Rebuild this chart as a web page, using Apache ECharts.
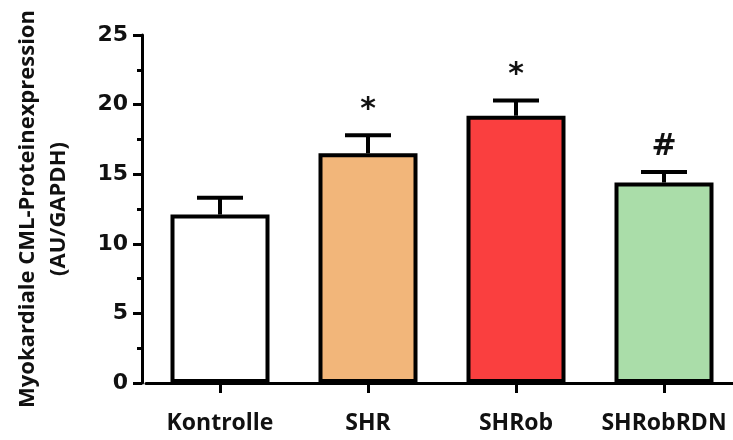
<!DOCTYPE html>
<html>
<head>
<meta charset="utf-8">
<script src="https://cdn.jsdelivr.net/npm/echarts@6/dist/echarts.min.js"></script>
<style>
	html, body { margin: 0; padding: 0; background: #fff; overflow: hidden; }
	/* a little wider than the window so the x axis runs off the right edge */
	#chart { width: 740px; height: 440px; }
</style>
</head>
<body>
<div id="chart"></div>
<script>
// Data
const groups = ['Kontrolle', 'SHR', 'SHRob', 'SHRobRDN'];
const means = [12.1, 16.5, 19.2, 14.4];
const errors = [1.2, 1.3, 1.1, 0.75];
const marks = ['', '*', '*', '#'];
const barColors = ['#FFFFFF', '#F2B67A', '#FA3F3F', '#AADDA9'];

const chart = echarts.init(document.getElementById('chart'));

const option = {
	animation: false,
	grid: { left: 146, right: 2, top: 35, bottom: 57 },
	xAxis: {
		type: 'category',
		data: groups,
		axisLine: { lineStyle: { color: '#000', width: 3 } },
		axisTick: { show: true, alignWithLabel: true, interval: 0, length: 10, lineStyle: { color: '#000', width: 3 } },
		axisLabel: {
			interval: 0, hideOverlap: false,
			color: '#111', fontFamily: 'Open Sans', fontWeight: 'bold', fontSize: 23, margin: 29
		}
	},
	yAxis: {
		type: 'value',
		min: 0,
		max: 25,
		interval: 5,
		offset: 4,
		name: 'Myokardiale CML-Proteinexpression\n(AU/GAPDH)',
		nameLocation: 'middle',
		nameGap: 68,
		nameTextStyle: {
			color: '#111', fontFamily: 'Open Sans', fontWeight: 'bold', fontSize: 22, lineHeight: 31
		},
		axisLine: { show: true, lineStyle: { color: '#000', width: 3 } },
		axisTick: { show: true, length: 9, lineStyle: { color: '#000', width: 3 } },
		minorTick: { show: true, splitNumber: 2, length: 5, lineStyle: { color: '#000', width: 3 } },
		splitLine: { show: false },
		axisLabel: {
			color: '#111', fontFamily: 'DejaVu Sans', fontWeight: 'bold', fontSize: 22, margin: 14
		}
	},
	series: [
		{
			type: 'bar',
			barWidth: 99,
			data: means.map((v, i) => ({
				value: v,
				itemStyle: { color: barColors[i] }
			})),
			itemStyle: { borderColor: '#000', borderWidth: 4 },
			z: 2
		},
		{
			// one-sided error bars + significance marks
			type: 'custom',
			data: means.map((v, i) => [i, v, v + errors[i]]),
			renderItem: function (params, api) {
				const base = api.coord([api.value(0), api.value(1)]);
				const top = api.coord([api.value(0), api.value(2)]);
				const half = 23;
				const style = { stroke: '#000', lineWidth: 4 };
				return {
					type: 'group',
					children: [
						{ type: 'line', shape: { x1: base[0], y1: base[1], x2: top[0], y2: top[1] }, style: style },
						{ type: 'line', shape: { x1: top[0] - half, y1: top[1], x2: top[0] + half, y2: top[1] }, style: style },
						{
							type: 'text',
							style: {
								text: marks[params.dataIndex],
								x: top[0],
								y: top[1] - 10,
								align: 'center',
								verticalAlign: 'bottom',
								fill: '#111',
								font: 'bold 30px "DejaVu Sans"'
							}
						}
					]
				};
			},
			z: 1
		}
	]
};

chart.setOption(option);
</script>
</body>
</html>
